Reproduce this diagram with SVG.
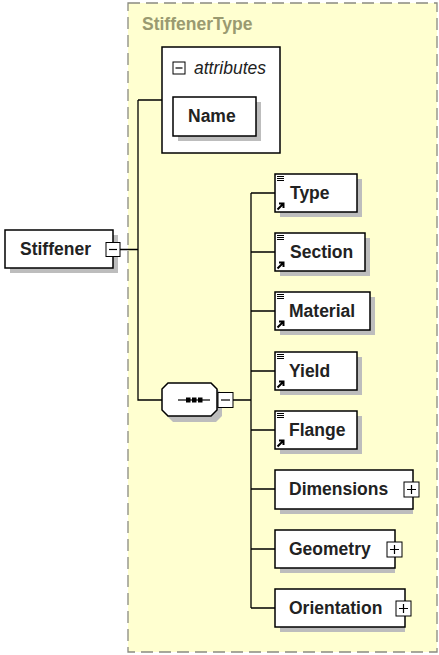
<svg xmlns="http://www.w3.org/2000/svg" width="439" height="655" viewBox="0 0 439 655">
<defs>
<style>
.box{fill:#fff;stroke:#000;stroke-width:1.5}
.sh{fill:#bdbdbd}
.lbl{font-family:"Liberation Sans",Arial,sans-serif;font-weight:bold;font-size:17.5px;fill:#222}
.ln{stroke:#000;stroke-width:1.3;fill:none}
.ic{fill:#fff;stroke:#000;stroke-width:1}
</style>
<g id="docicon">
<path d="M2 2.5h7M2 4.5h7M2 6.5h7" stroke="#000" stroke-width="1"/>
</g>
<g id="refarrow">
<path d="M2.5 35.5 L8 30 M4 29.5 H8.5 V34" stroke="#000" stroke-width="2" fill="none"/>
</g>
</defs>
<rect x="0" y="0" width="439" height="655" fill="#fff"/>
<g id="panel">
<rect x="128" y="3" width="309" height="649" fill="#ffffd0" stroke="#8a8a80" stroke-width="1.3" stroke-dasharray="12,6"/>
<text x="142" y="30" font-family="'Liberation Sans',Arial,sans-serif" font-weight="bold" font-size="17.5" fill="#9a9a70">StiffenerType</text>
</g>
<g id="connectors">
<path class="ln" d="M120 249.5H138M138 100V400H162M138 100H162"/>
<path class="ln" d="M233 400H251M251 193V608M251 193H275M251 252H275M251 311H275M251 371H275M251 430H275M251 489H275M251 549H275M251 608H275"/>
</g>
<g id="Stiffener">
<rect class="sh" x="10" y="235" width="108" height="38"/>
<rect class="box" x="5" y="230" width="108" height="38"/>
<text class="lbl" x="20" y="255">Stiffener</text>
<rect class="ic" x="106" y="242.5" width="14" height="14"/>
<path d="M109 249.5h8" stroke="#000" stroke-width="1.2"/>
</g>
<g id="attributes">
<rect class="box" x="162" y="47" width="118" height="106"/>
<rect class="ic" x="173" y="62" width="12" height="12"/>
<path d="M175.5 68h7" stroke="#000" stroke-width="1.2"/>
<text x="194" y="74" font-family="'Liberation Sans',Arial,sans-serif" font-style="italic" font-size="17.5" fill="#222">attributes</text>
</g>
<g id="Name">
<rect class="sh" x="178" y="102" width="83" height="39"/>
<rect class="box" x="173" y="97" width="83" height="39"/>
<text class="lbl" x="188" y="122">Name</text>
</g>
<g id="sequence">
<path class="sh" d="M173 388H216L222 394V416L216 422H173L167 416V394Z"/>
<path fill="#fff" stroke="#000" stroke-width="1.5" d="M168 383H211L217 389V410L211 416H168L162 410V389Z"/>
<path d="M178 400H210" stroke="#000" stroke-width="1.2"/>
<rect x="186" y="397.5" width="4.5" height="5" fill="#000"/>
<rect x="192" y="397.5" width="4.5" height="5" fill="#000"/>
<rect x="198" y="397.5" width="4.5" height="5" fill="#000"/>
<rect class="ic" x="218" y="392.5" width="15" height="15"/>
<path d="M221 400h9" stroke="#000" stroke-width="1.2"/>
</g>
<g id="Type">
<rect class="sh" x="280" y="179" width="82" height="38"/>
<rect class="box" x="275" y="174" width="82" height="38"/>
<use href="#docicon" x="275" y="174"/><use href="#refarrow" x="275" y="174"/>
<text class="lbl" x="290" y="199">Type</text>
</g>
<g id="Section">
<rect class="sh" x="280" y="238" width="90" height="38"/>
<rect class="box" x="275" y="233" width="90" height="38"/>
<use href="#docicon" x="275" y="233"/><use href="#refarrow" x="275" y="233"/>
<text class="lbl" x="290" y="258">Section</text>
</g>
<g id="Material">
<rect class="sh" x="280" y="297" width="95" height="38"/>
<rect class="box" x="275" y="292" width="95" height="38"/>
<use href="#docicon" x="275" y="292"/><use href="#refarrow" x="275" y="292"/>
<text class="lbl" x="289" y="317">Material</text>
</g>
<g id="Yield">
<rect class="sh" x="280" y="357" width="82" height="38"/>
<rect class="box" x="275" y="352" width="82" height="38"/>
<use href="#docicon" x="275" y="352"/><use href="#refarrow" x="275" y="352"/>
<text class="lbl" x="289" y="377">Yield</text>
</g>
<g id="Flange">
<rect class="sh" x="280" y="416" width="82" height="38"/>
<rect class="box" x="275" y="411" width="82" height="38"/>
<use href="#docicon" x="275" y="411"/><use href="#refarrow" x="275" y="411"/>
<text class="lbl" x="289" y="436">Flange</text>
</g>
<g id="Dimensions">
<rect class="sh" x="280" y="475" width="133" height="39"/>
<rect class="box" x="275" y="470" width="138" height="39"/>
<text class="lbl" x="289" y="495">Dimensions</text>
<rect class="ic" x="404" y="482" width="15" height="15"/>
<path d="M407 489.5h9M411.5 485v9" stroke="#000" stroke-width="1.2"/>
</g>
<g id="Geometry">
<rect class="sh" x="280" y="535" width="115" height="38"/>
<rect class="box" x="275" y="530" width="120" height="38"/>
<text class="lbl" x="289" y="555">Geometry</text>
<rect class="ic" x="387" y="542" width="15" height="15"/>
<path d="M390 549.5h9M394.5 545v9" stroke="#000" stroke-width="1.2"/>
</g>
<g id="Orientation">
<rect class="sh" x="280" y="594" width="125" height="38"/>
<rect class="box" x="275" y="589" width="130" height="38"/>
<text class="lbl" x="289" y="614">Orientation</text>
<rect class="ic" x="396" y="601" width="15" height="15"/>
<path d="M399 608.5h9M403.5 604v9" stroke="#000" stroke-width="1.2"/>
</g>
</svg>
